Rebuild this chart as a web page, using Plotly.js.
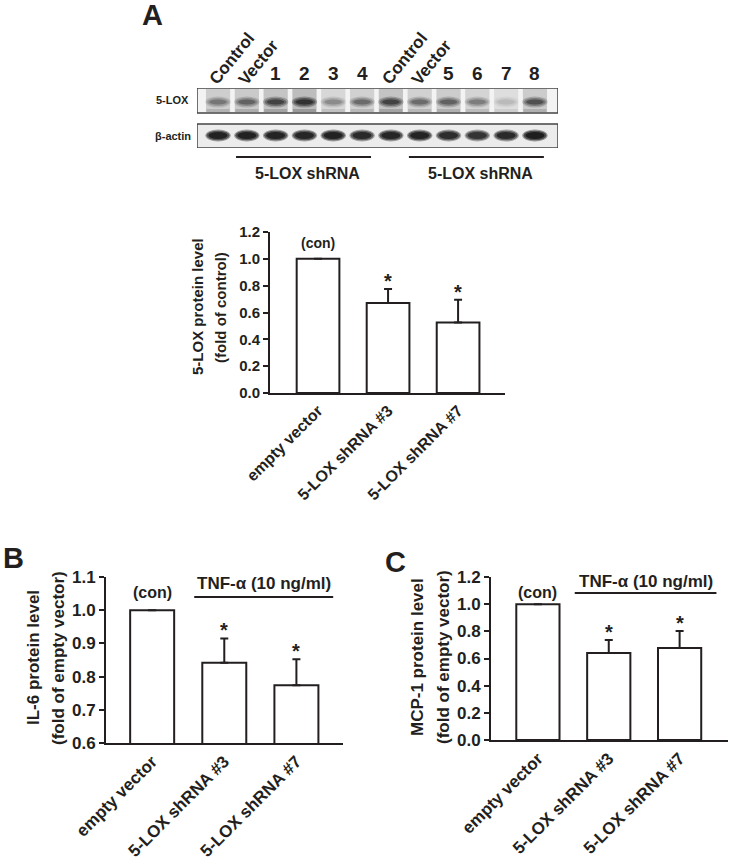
<!DOCTYPE html>
<html><head><meta charset="utf-8">
<script src="https://cdn.plot.ly/plotly-3.0.1.min.js"></script>
<style>html,body{margin:0;padding:0;background:#fff}</style>
</head><body><div id="chart" style="width:730px;height:862px"></div>
<script>
// ---- Western blot (panel A, top) ----
const laneLabels = ["Control","Vector","1","2","3","4","Control","Vector","5","6","7","8"];
const loxBand   = [0.38,0.48,0.72,0.88,0.30,0.45,0.72,0.45,0.50,0.36,0.12,0.62];
const loxSmear  = [0.28,0.32,0.36,0.42,0.22,0.26,0.36,0.26,0.30,0.24,0.16,0.30];
const actinBand = [0.90,0.90,0.88,0.86,0.90,0.82,0.86,0.88,0.80,0.74,0.82,0.96];
const rowLabels = ["5-LOX","β-actin"];
const shGroupLabels = ["5-LOX shRNA","5-LOX shRNA"];
const shGroupFirst = [1,7];
const shGroupLast  = [5,11];

// ---- Bar charts ----
const categories = ["empty vector","5-LOX shRNA #3","5-LOX shRNA #7"];
const loxMean = [1.0,0.67,0.525];
const loxErr  = [null,0.105,0.17];
const il6Mean = [1.0,0.842,0.774];
const il6Err  = [null,0.073,0.078];
const mcpMean = [1.0,0.641,0.677];
const mcpErr  = [null,0.095,0.126];
const yTicksA = [0,0.2,0.4,0.6,0.8,1.0,1.2];
const yTicksB = [0.6,0.7,0.8,0.9,1.0,1.1];
const yTicksC = [0,0.2,0.4,0.6,0.8,1.0,1.2];
const conLabel = "(con)";
const starLabel = "*";
const tnfLabel = "TNF-α (10 ng/ml)";
const titlesA = ["5-LOX protein level","(fold of control)"];
const titlesB = ["IL-6 protein level","(fold of empty vector)"];
const titlesC = ["MCP-1 protein level","(fold of empty vector)"];
const panelLetters = ["A","B","C"];

const W=730,H=862;
const px=x=>x/W, py=y=>1-y/H;
const INK='#231f20';
const FAM='Liberation Sans, Arial, Helvetica, sans-serif';
const bold=(s)=>({family:FAM,size:s,color:INK,weight:700});

const panels=[
 {k:'',mean:loxMean,err:loxErr,xd:[270,505],yd:[232,393],xr:[-0.686,2.67],yr:[0,1.2],ticks:yTicksA,fs:15,xfs:16,titles:titlesA,tx:[198,221],ty:307,tfs:15,con:16,confs:14,tnf:null},
 {k:'2',mean:il6Mean,err:il6Err,xd:[106,343],yd:[577,743],xr:[-0.64,2.646],yr:[0.6,1.1],ticks:yTicksB,fs:17,xfs:17,titles:titlesB,tx:[33,58],ty:658,tfs:17,con:18,confs:16,tnf:{x0:0.583,x1:2.51,y:1.04,sh:13}},
 {k:'3',mean:mcpMean,err:mcpErr,xd:[491,728],yd:[577,740],xr:[-0.662,2.683],yr:[0,1.2],ticks:yTicksC,fs:17,xfs:17,titles:titlesC,tx:[417,443],ty:657,tfs:17,con:12,confs:16,tnf:{x0:0.52,x1:2.52,y:1.082,sh:12}}
];

const data=[], shapes=[], annotations=[];
const layout={width:W,height:H,margin:{l:0,r:0,t:0,b:0},showlegend:false,
  paper_bgcolor:'#fff',plot_bgcolor:'#fff',font:{family:FAM,color:INK}};

panels.forEach(p=>{
  const xa='x'+p.k, ya='y'+p.k;
  data.push({type:'bar',x:categories,y:p.mean,xaxis:xa,yaxis:ya,width:0.61,
    marker:{color:'#fff',line:{color:INK,width:2}},hoverinfo:'none',
    error_y:{type:'data',symmetric:false,array:p.err,arrayminus:[0,0,0],color:INK,thickness:2,width:4}});
  layout['xaxis'+p.k]={domain:[px(p.xd[0]),px(p.xd[1])],range:p.xr,anchor:ya,type:'category',
    showline:true,linecolor:INK,linewidth:2,ticks:'',showgrid:false,zeroline:false,
    tickangle:-45,tickfont:bold(p.xfs),fixedrange:true};
  layout['yaxis'+p.k]={domain:[py(p.yd[1]),py(p.yd[0])],range:p.yr,anchor:xa,
    showline:true,linecolor:INK,linewidth:2,ticks:'outside',ticklen:5,tickwidth:2,tickcolor:INK,
    tickvals:p.ticks,tickformat:'.1f',showgrid:false,zeroline:false,tickfont:bold(p.fs),fixedrange:true};
  p.titles.forEach((t,i)=>annotations.push({xref:'paper',yref:'paper',x:px(p.tx[i]),y:py(p.ty),
    text:t,textangle:-90,showarrow:false,xanchor:'center',yanchor:'middle',font:bold(p.tfs)}));
  annotations.push({xref:xa,yref:ya,x:categories[0],y:p.mean[0],yshift:p.con,text:conLabel,
    showarrow:false,yanchor:'middle',font:bold(p.confs)});
  for(let i=1;i<categories.length;i++){
    annotations.push({xref:xa,yref:ya,x:categories[i],y:p.mean[i]+p.err[i],yshift:8,text:starLabel,
      showarrow:false,yanchor:'middle',font:bold(20)});
  }
  if(p.tnf){
    shapes.push({type:'line',xref:xa,yref:ya,x0:p.tnf.x0,x1:p.tnf.x1,y0:p.tnf.y,y1:p.tnf.y,line:{color:INK,width:2}});
    annotations.push({xref:xa,yref:ya,x:(p.tnf.x0+p.tnf.x1)/2,y:p.tnf.y,yshift:p.tnf.sh,text:tnfLabel,
      showarrow:false,yanchor:'middle',font:bold(17)});
  }
});

// ---- blot axes ----
layout.xaxis4={domain:[px(197),px(558)],range:[-0.73,11.8],anchor:'y4',visible:false,fixedrange:true};
layout.yaxis4={domain:[py(148),py(88)],range:[0,60],anchor:'x4',visible:false,fixedrange:true};
data.push({type:'scatter',x:[],y:[],xaxis:'x4',yaxis:'y4',hoverinfo:'none'});

// row backgrounds
shapes.push({type:'rect',xref:'x4',yref:'y4',x0:-0.73,x1:11.8,y0:35,y1:60,fillcolor:'#f3f3f3',line:{width:0},layer:'above'});
shapes.push({type:'rect',xref:'x4',yref:'y4',x0:-0.73,x1:11.8,y0:0,y1:24,fillcolor:'#ececec',line:{width:0},layer:'above'});
// lane smears + bands
const loxLayers=[{w:0.44,h:5.5,o:0.35},{w:0.38,h:4,o:0.5},{w:0.3,h:2.4,o:0.7}];
const actLayers=[{w:0.44,h:6,o:0.4},{w:0.4,h:4.8,o:0.6},{w:0.33,h:3.4,o:0.85}];
laneLabels.forEach((lab,i)=>{
  shapes.push({type:'rect',xref:'x4',yref:'y4',x0:i-0.42,x1:i+0.42,y0:35.8,y1:59,
    fillcolor:'rgba(70,70,70,'+(loxSmear[i]*0.75).toFixed(3)+')',line:{width:0},layer:'above'});
  shapes.push({type:'rect',xref:'x4',yref:'y4',x0:i-0.4,x1:i+0.4,y0:36,y1:39,
    fillcolor:'rgba(50,50,50,'+(loxSmear[i]*0.6).toFixed(3)+')',line:{width:0},layer:'above'});
  loxLayers.forEach(L=>shapes.push({type:'circle',xref:'x4',yref:'y4',x0:i-L.w,x1:i+L.w,y0:46-L.h,y1:46+L.h,
    fillcolor:'rgba(25,25,25,'+(loxBand[i]*L.o).toFixed(3)+')',line:{width:0},layer:'above'}));
  actLayers.forEach(L=>shapes.push({type:'circle',xref:'x4',yref:'y4',x0:i-L.w,x1:i+L.w,y0:12.5-L.h,y1:12.5+L.h,
    fillcolor:'rgba(20,20,20,'+(actinBand[i]*L.o).toFixed(3)+')',line:{width:0},layer:'above'}));
  // lane labels
  if(/^\d+$/.test(lab)){
    annotations.push({xref:'x4',yref:'paper',x:i,y:py(73),text:lab,showarrow:false,xanchor:'center',yanchor:'middle',font:bold(19)});
  } else {
    annotations.push({xref:'x4',yref:'paper',x:i,xshift:-15,y:py(91),text:lab,textangle:-51,showarrow:false,xanchor:'left',yanchor:'bottom',font:bold(17)});
  }
});
// box outlines
shapes.push({type:'rect',xref:'x4',yref:'y4',x0:-0.73,x1:11.8,y0:35,y1:60,line:{color:'#444',width:1.5},layer:'above'});
shapes.push({type:'rect',xref:'x4',yref:'y4',x0:-0.73,x1:11.8,y0:0,y1:24,line:{color:'#444',width:1.5},layer:'above'});
// row labels
annotations.push({xref:'paper',yref:'y4',x:px(191),y:47.5,text:rowLabels[0],showarrow:false,xanchor:'right',yanchor:'middle',font:bold(11)});
annotations.push({xref:'paper',yref:'y4',x:px(193),y:12,text:rowLabels[1],showarrow:false,xanchor:'right',yanchor:'middle',font:bold(11)});
// shRNA group lines
shGroupLabels.forEach((g,j)=>{
  shapes.push({type:'line',xref:'x4',yref:'paper',x0:shGroupFirst[j]-0.375,x1:shGroupLast[j]+0.31,y0:py(157),y1:py(157),line:{color:INK,width:2}});
  annotations.push({xref:'x4',yref:'paper',x:(shGroupFirst[j]+shGroupLast[j])/2,xshift:3,y:py(173),text:g,showarrow:false,xanchor:'center',yanchor:'middle',font:bold(16)});
});

// panel letters
[[152,15],[13,558],[395,562]].forEach((c,i)=>annotations.push({xref:'paper',yref:'paper',x:px(c[0]),y:py(c[1]),
  text:panelLetters[i],showarrow:false,xanchor:'center',yanchor:'middle',font:bold(29)}));

layout.shapes=shapes; layout.annotations=annotations;
Plotly.newPlot('chart',data,layout,{staticPlot:true,displayModeBar:false});
</script></body></html>
